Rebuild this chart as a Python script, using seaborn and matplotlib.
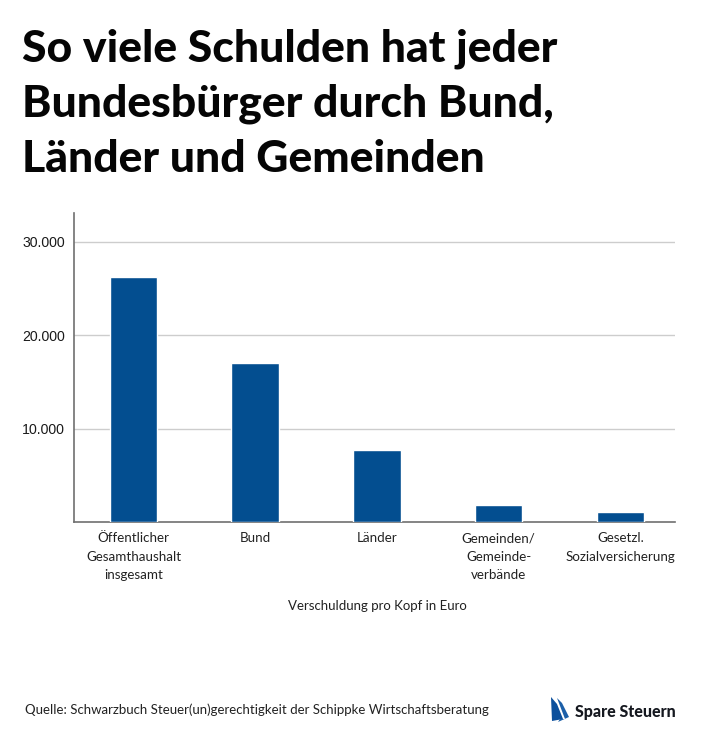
import matplotlib
matplotlib.use("Agg")
import matplotlib.pyplot as plt
from matplotlib.patches import Polygon
import pandas as pd
import seaborn as sns

categories = ["Öffentlicher\nGesamthaushalt\ninsgesamt", "Bund", "Länder",
              "Gemeinden/\nGemeinde-\nverbände", "Gesetzl.\nSozialversicherung"]
values = [26200, 17000, 7700, 1790, 1040]
yticks = [10000, 20000, 30000]
ytick_labels = ["10.000", "20.000", "30.000"]
title = "So viele Schulden hat jeder\nBundesbürger durch Bund,\nLänder und Gemeinden"
xlabel = "Verschuldung pro Kopf in Euro"
source = "Quelle: Schwarzbuch Steuer(un)gerechtigkeit der Schippke Wirtschaftsberatung"
brand = "Spare Steuern"

W, H = 710, 742
sns.set_theme(style="white")
plt.rcParams["font.family"] = ["Lato", "DejaVu Sans"]

fig = plt.figure(figsize=(W / 100, H / 100), dpi=100, facecolor="white")
ax = fig.add_axes([73.5 / W, 1 - 522 / H, (675 - 73.5) / W, (522 - 213) / H])
df = pd.DataFrame({"cat": categories, "val": values})
sns.barplot(data=df, x="cat", y="val", color="#034e90", saturation=1, width=0.39, ax=ax, zorder=3)
ax.set_xlim(-0.493, 4.449)
ax.set_ylim(0, 33100)
ax.set_yticks(yticks, ytick_labels, fontfamily="Liberation Sans", fontsize=10.2, color="#1a1a1a")
ax.tick_params(axis="y", length=0, pad=6)
ax.tick_params(axis="x", length=0, pad=7.5)
for lab in ax.get_xticklabels():
    lab.set_fontsize(9.6)
    lab.set_color("#222222")
    lab.set_linespacing(1.62)
ax.set_xlabel("")
ax.set_ylabel("")
ax.grid(axis="y", color="#cdcdcd", lw=1, zorder=0)
ax.set_axisbelow(True)
sns.despine(ax=ax, top=True, right=True)
for s in ["left", "bottom"]:
    ax.spines[s].set_color("#6f6f6f")
    ax.spines[s].set_linewidth(1.2)

def fx(x): return x / W
def fy(y): return 1 - y / H

fig.text(fx(22), fy(179), title, fontsize=32, fontweight="black", color="#050505",
         ha="left", va="bottom", linespacing=1.44)
fig.text(fx(377), fy(606), xlabel, fontsize=9.5, color="#222222", ha="center", va="center")
fig.text(fx(25), fy(710), source, fontsize=9.5, color="#222222", ha="left", va="center")
fig.text(fx(575), fy(712), brand, fontsize=11.5, fontweight="black", color="#15181f", ha="left", va="center")

sail1 = [(551, 697), (557, 704), (563, 719), (552, 721)]
sail2 = [(557, 698), (562, 703), (569, 717), (558, 722), (560, 719), (565, 719)]
for pts, col in ((sail1, "#0b4f9c"), (sail2, "#1c5fa8")):
    fig.add_artist(Polygon([(fx(a), fy(b)) for a, b in pts], closed=True, transform=fig.transFigure,
                           facecolor=col, edgecolor="none"))

fig.savefig("out.png", dpi=100, facecolor="white")
